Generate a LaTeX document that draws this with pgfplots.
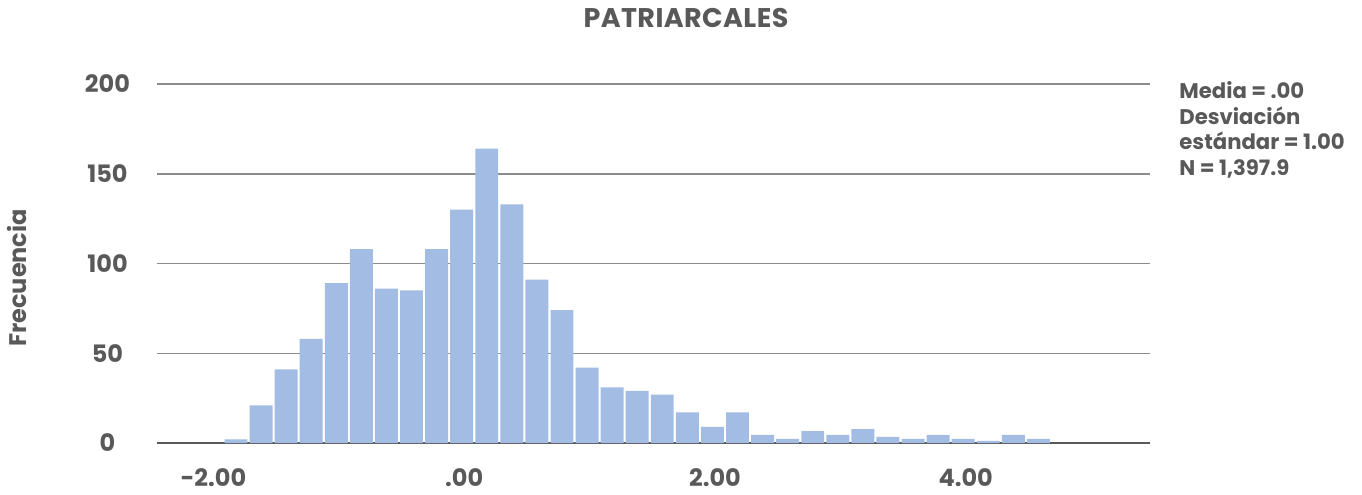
\documentclass[border=0pt]{standalone}
\usepackage{fontspec}
\setmainfont{Poppins}
\usepackage{pgfplots}
\pgfplotsset{compat=1.18}
\definecolor{txt}{HTML}{595959}
\definecolor{barc}{HTML}{A2BCE4}
\definecolor{gridc}{HTML}{8C8C8C}

\begin{document}
\begin{tikzpicture}[font=\fontsize{12}{13.8}\selectfont\bfseries, text=txt]
\path[use as bounding box] (-78.5pt,-25.5pt) rectangle (602.5pt,221.5pt);
\begin{axis}[
 scale only axis, width=496.5pt, height=179.5pt,
 xmin=-2.45, xmax=5.47, ymin=0, ymax=200,
 axis x line*=bottom, axis y line*=left,
 x axis line style={draw=txt, line width=0.8pt, -},
 y axis line style={draw=none},
 xtick={-2,0,2,4}, xticklabels={-2.00,.00,2.00,4.00},
 ytick={0,50,100,150,200}, yticklabels={0,50,100,150,200},
 major tick length=0pt,
 ymajorgrids, grid style={draw=gridc, line width=0.75pt},
 ticklabel style={font=\fontsize{12}{14}\selectfont\bfseries, text=txt},
 yticklabel style={anchor=center, xshift=-24.75pt},
 xticklabel style={anchor=base, yshift=-21.85pt},
 ybar, bar width=0.183,
]
\addplot[fill=barc, draw=none] coordinates {
(-1.82,2) (-1.62,21) (-1.42,41) (-1.22,58) (-1.02,89) (-0.82,108)
(-0.62,86) (-0.42,85) (-0.22,108) (-0.02,130) (0.18,164) (0.38,133)
(0.58,91) (0.78,74) (0.98,42) (1.18,31) (1.38,29) (1.58,27)
(1.78,17) (1.98,9) (2.18,17) (2.38,4.5) (2.58,2.3) (2.78,6.6)
(2.98,4.5) (3.18,7.7) (3.38,3.4) (3.58,2.3) (3.78,4.5) (3.98,2.3)
(4.18,1.2) (4.38,4.5) (4.58,2.3)
};
\end{axis}
\node[anchor=base, inner sep=0pt, font=\fontsize{13.5}{15}\selectfont\bfseries\addfontfeature{LetterSpace=1.5}] at (264.5pt,207.8pt) {PATRIARCALES};
\node[anchor=base, rotate=90] at (-65.15pt,82.5pt) {Frecuencia};
\begin{scope}[every node/.style={anchor=base west, inner sep=0pt, font=\fontsize{10.6}{12}\selectfont\bfseries\addfontfeature{Numbers=Monospaced}}]
\node at (511pt,172.3pt) {Media = .00};
\node at (511pt,159.45pt) {Desviación};
\node at (511pt,146.6pt) {estándar = 1.00};
\node at (511pt,133.75pt) {N = 1,397.9};
\end{scope}
\end{tikzpicture}
\end{document}
